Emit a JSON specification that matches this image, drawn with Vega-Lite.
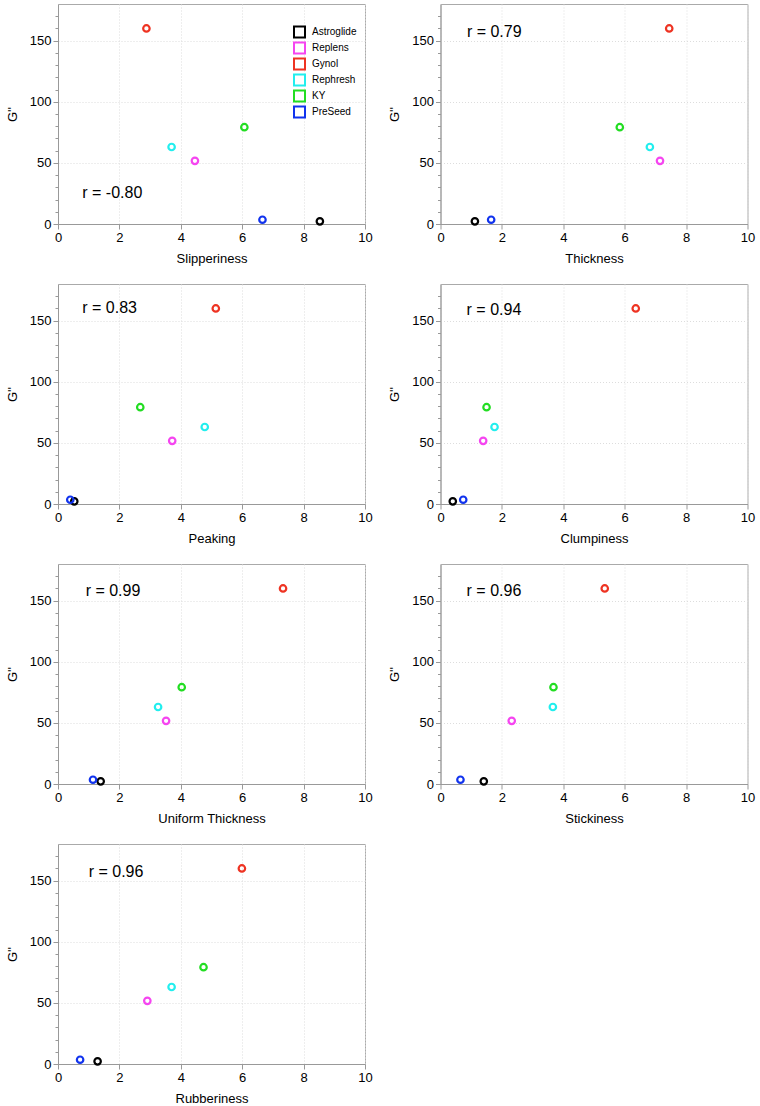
{
  "$schema": "https://vega.github.io/schema/vega-lite/v6.json",
  "padding": {"left": 5, "top": 3, "right": 5, "bottom": 5},
  "background": "white",
  "datasets": {
    "lube": [
      {"product": "Astroglide", "Slipperiness": 8.53, "Thickness": 1.12, "Peaking": 0.53, "Clumpiness": 0.40, "UniformThickness": 1.39, "Stickiness": 1.41, "Rubberiness": 1.29, "G": 2.2},
      {"product": "Replens", "Slipperiness": 4.46, "Thickness": 7.15, "Peaking": 3.72, "Clumpiness": 1.39, "UniformThickness": 3.52, "Stickiness": 2.32, "Rubberiness": 2.91, "G": 51.7},
      {"product": "Gynol", "Slipperiness": 2.88, "Thickness": 7.45, "Peaking": 5.14, "Clumpiness": 6.36, "UniformThickness": 7.33, "Stickiness": 5.35, "Rubberiness": 5.99, "G": 160},
      {"product": "Rephresh", "Slipperiness": 3.70, "Thickness": 6.82, "Peaking": 4.78, "Clumpiness": 1.76, "UniformThickness": 3.26, "Stickiness": 3.66, "Rubberiness": 3.70, "G": 63},
      {"product": "KY", "Slipperiness": 6.07, "Thickness": 5.84, "Peaking": 2.68, "Clumpiness": 1.50, "UniformThickness": 4.03, "Stickiness": 3.68, "Rubberiness": 4.74, "G": 79.2},
      {"product": "PreSeed", "Slipperiness": 6.66, "Thickness": 1.65, "Peaking": 0.40, "Clumpiness": 0.74, "UniformThickness": 1.14, "Stickiness": 0.65, "Rubberiness": 0.72, "G": 3.5}
    ]
  },
  "columns": 2,
  "spacing": {"row": 17, "column": 14.5},
  "concat": [
    {
      "width": 307, "height": 220,
      "resolve": {"axis": {"y": "independent"}},
      "layer": [
        {"data": {"name": "lube"},
         "mark": {"type": "point", "shape": "circle", "filled": false, "strokeWidth": 2.2, "size": 42, "opacity": 1},
         "encoding": {
           "x": {"field": "Slipperiness", "type": "quantitative", "scale": {"domain": [0, 10], "nice": false}, "axis": {"title": "Slipperiness", "values": [0,1,2,3,4,5,6,7,8,9,10], "labelExpr": "datum.value % 2 === 0 ? datum.label : ''", "tickSize": {"condition": {"test": "datum.value % 2 === 0", "value": 5}, "value": 3}, "gridOpacity": {"condition": {"test": "datum.value % 2 === 0", "value": 1}, "value": 0}}},
           "y": {"field": "G", "type": "quantitative", "scale": {"domain": [0, 180], "nice": false}, "axis": {"title": "G''", "values": [0, 50, 100, 150], "tickSize": 5}},
           "color": {"field": "product", "type": "nominal", "scale": {"domain": ["Astroglide", "Replens", "Gynol", "Rephresh", "KY", "PreSeed"], "range": ["#000000", "#f545f0", "#ee3322", "#22eeee", "#22dd22", "#1133ee"]},
             "legend": {"orient": "none", "legendX": 235, "legendY": 21.5, "title": null, "symbolType": "square", "symbolSize": 121, "symbolStrokeWidth": 2, "symbolOpacity": 1, "rowPadding": -4.3, "labelOffset": 6, "labelFontSize": 10, "padding": 0,
               "encode": {"symbols": {"fill": {"scale": "color", "field": "value"}, "fillOpacity": {"value": 1}}}}}
         }},
        {"data": {"values": [{"label": "r = -0.80"}]},
         "mark": {"type": "text", "align": "left", "baseline": "middle", "fontSize": 16},
         "encoding": {"text": {"field": "label"}, "x": {"datum": 0.79, "type": "quantitative"}, "y": {"datum": 25, "type": "quantitative", "axis": {"orient": "left", "values": [10,20,30,40,60,70,80,90,110,120,130,140,160,170], "labels": false, "domain": false, "grid": false, "title": null, "tickSize": 3}}}}
      ]
    },
    {
      "width": 307, "height": 220,
      "resolve": {"axis": {"y": "independent"}},
      "layer": [
        {"data": {"name": "lube"},
         "mark": {"type": "point", "shape": "circle", "filled": false, "strokeWidth": 2.2, "size": 42, "opacity": 1},
         "encoding": {
           "x": {"field": "Thickness", "type": "quantitative", "scale": {"domain": [0, 10], "nice": false}, "axis": {"title": "Thickness", "values": [0,1,2,3,4,5,6,7,8,9,10], "labelExpr": "datum.value % 2 === 0 ? datum.label : ''", "tickSize": {"condition": {"test": "datum.value % 2 === 0", "value": 5}, "value": 3}, "gridOpacity": {"condition": {"test": "datum.value % 2 === 0", "value": 1}, "value": 0}}},
           "y": {"field": "G", "type": "quantitative", "scale": {"domain": [0, 180], "nice": false}, "axis": {"title": "G''", "values": [0, 50, 100, 150], "tickSize": 5}},
           "color": {"field": "product", "type": "nominal", "legend": null}
         }},
        {"data": {"values": [{"label": "r = 0.79"}]},
         "mark": {"type": "text", "align": "left", "baseline": "middle", "fontSize": 16},
         "encoding": {"text": {"field": "label"}, "x": {"datum": 0.86, "type": "quantitative"}, "y": {"datum": 157, "type": "quantitative", "axis": {"orient": "left", "values": [10,20,30,40,60,70,80,90,110,120,130,140,160,170], "labels": false, "domain": false, "grid": false, "title": null, "tickSize": 3}}}}
      ]
    },
    {
      "width": 307, "height": 220,
      "resolve": {"axis": {"y": "independent"}},
      "layer": [
        {"data": {"name": "lube"},
         "mark": {"type": "point", "shape": "circle", "filled": false, "strokeWidth": 2.2, "size": 42, "opacity": 1},
         "encoding": {
           "x": {"field": "Peaking", "type": "quantitative", "scale": {"domain": [0, 10], "nice": false}, "axis": {"title": "Peaking", "values": [0,1,2,3,4,5,6,7,8,9,10], "labelExpr": "datum.value % 2 === 0 ? datum.label : ''", "tickSize": {"condition": {"test": "datum.value % 2 === 0", "value": 5}, "value": 3}, "gridOpacity": {"condition": {"test": "datum.value % 2 === 0", "value": 1}, "value": 0}}},
           "y": {"field": "G", "type": "quantitative", "scale": {"domain": [0, 180], "nice": false}, "axis": {"title": "G''", "values": [0, 50, 100, 150], "tickSize": 5}},
           "color": {"field": "product", "type": "nominal", "legend": null}
         }},
        {"data": {"values": [{"label": "r = 0.83"}]},
         "mark": {"type": "text", "align": "left", "baseline": "middle", "fontSize": 16},
         "encoding": {"text": {"field": "label"}, "x": {"datum": 0.79, "type": "quantitative"}, "y": {"datum": 160, "type": "quantitative", "axis": {"orient": "left", "values": [10,20,30,40,60,70,80,90,110,120,130,140,160,170], "labels": false, "domain": false, "grid": false, "title": null, "tickSize": 3}}}}
      ]
    },
    {
      "width": 307, "height": 220,
      "resolve": {"axis": {"y": "independent"}},
      "layer": [
        {"data": {"name": "lube"},
         "mark": {"type": "point", "shape": "circle", "filled": false, "strokeWidth": 2.2, "size": 42, "opacity": 1},
         "encoding": {
           "x": {"field": "Clumpiness", "type": "quantitative", "scale": {"domain": [0, 10], "nice": false}, "axis": {"title": "Clumpiness", "values": [0,1,2,3,4,5,6,7,8,9,10], "labelExpr": "datum.value % 2 === 0 ? datum.label : ''", "tickSize": {"condition": {"test": "datum.value % 2 === 0", "value": 5}, "value": 3}, "gridOpacity": {"condition": {"test": "datum.value % 2 === 0", "value": 1}, "value": 0}}},
           "y": {"field": "G", "type": "quantitative", "scale": {"domain": [0, 180], "nice": false}, "axis": {"title": "G''", "values": [0, 50, 100, 150], "tickSize": 5}},
           "color": {"field": "product", "type": "nominal", "legend": null}
         }},
        {"data": {"values": [{"label": "r = 0.94"}]},
         "mark": {"type": "text", "align": "left", "baseline": "middle", "fontSize": 16},
         "encoding": {"text": {"field": "label"}, "x": {"datum": 0.85, "type": "quantitative"}, "y": {"datum": 158.5, "type": "quantitative", "axis": {"orient": "left", "values": [10,20,30,40,60,70,80,90,110,120,130,140,160,170], "labels": false, "domain": false, "grid": false, "title": null, "tickSize": 3}}}}
      ]
    },
    {
      "width": 307, "height": 220,
      "resolve": {"axis": {"y": "independent"}},
      "layer": [
        {"data": {"name": "lube"},
         "mark": {"type": "point", "shape": "circle", "filled": false, "strokeWidth": 2.2, "size": 42, "opacity": 1},
         "encoding": {
           "x": {"field": "UniformThickness", "type": "quantitative", "scale": {"domain": [0, 10], "nice": false}, "axis": {"title": "Uniform Thickness", "values": [0,1,2,3,4,5,6,7,8,9,10], "labelExpr": "datum.value % 2 === 0 ? datum.label : ''", "tickSize": {"condition": {"test": "datum.value % 2 === 0", "value": 5}, "value": 3}, "gridOpacity": {"condition": {"test": "datum.value % 2 === 0", "value": 1}, "value": 0}}},
           "y": {"field": "G", "type": "quantitative", "scale": {"domain": [0, 180], "nice": false}, "axis": {"title": "G''", "values": [0, 50, 100, 150], "tickSize": 5}},
           "color": {"field": "product", "type": "nominal", "legend": null}
         }},
        {"data": {"values": [{"label": "r = 0.99"}]},
         "mark": {"type": "text", "align": "left", "baseline": "middle", "fontSize": 16},
         "encoding": {"text": {"field": "label"}, "x": {"datum": 0.9, "type": "quantitative"}, "y": {"datum": 158, "type": "quantitative", "axis": {"orient": "left", "values": [10,20,30,40,60,70,80,90,110,120,130,140,160,170], "labels": false, "domain": false, "grid": false, "title": null, "tickSize": 3}}}}
      ]
    },
    {
      "width": 307, "height": 220,
      "resolve": {"axis": {"y": "independent"}},
      "layer": [
        {"data": {"name": "lube"},
         "mark": {"type": "point", "shape": "circle", "filled": false, "strokeWidth": 2.2, "size": 42, "opacity": 1},
         "encoding": {
           "x": {"field": "Stickiness", "type": "quantitative", "scale": {"domain": [0, 10], "nice": false}, "axis": {"title": "Stickiness", "values": [0,1,2,3,4,5,6,7,8,9,10], "labelExpr": "datum.value % 2 === 0 ? datum.label : ''", "tickSize": {"condition": {"test": "datum.value % 2 === 0", "value": 5}, "value": 3}, "gridOpacity": {"condition": {"test": "datum.value % 2 === 0", "value": 1}, "value": 0}}},
           "y": {"field": "G", "type": "quantitative", "scale": {"domain": [0, 180], "nice": false}, "axis": {"title": "G''", "values": [0, 50, 100, 150], "tickSize": 5}},
           "color": {"field": "product", "type": "nominal", "legend": null}
         }},
        {"data": {"values": [{"label": "r = 0.96"}]},
         "mark": {"type": "text", "align": "left", "baseline": "middle", "fontSize": 16},
         "encoding": {"text": {"field": "label"}, "x": {"datum": 0.85, "type": "quantitative"}, "y": {"datum": 158, "type": "quantitative", "axis": {"orient": "left", "values": [10,20,30,40,60,70,80,90,110,120,130,140,160,170], "labels": false, "domain": false, "grid": false, "title": null, "tickSize": 3}}}}
      ]
    },
    {
      "width": 307, "height": 220,
      "resolve": {"axis": {"y": "independent"}},
      "layer": [
        {"data": {"name": "lube"},
         "mark": {"type": "point", "shape": "circle", "filled": false, "strokeWidth": 2.2, "size": 42, "opacity": 1},
         "encoding": {
           "x": {"field": "Rubberiness", "type": "quantitative", "scale": {"domain": [0, 10], "nice": false}, "axis": {"title": "Rubberiness", "values": [0,1,2,3,4,5,6,7,8,9,10], "labelExpr": "datum.value % 2 === 0 ? datum.label : ''", "tickSize": {"condition": {"test": "datum.value % 2 === 0", "value": 5}, "value": 3}, "gridOpacity": {"condition": {"test": "datum.value % 2 === 0", "value": 1}, "value": 0}}},
           "y": {"field": "G", "type": "quantitative", "scale": {"domain": [0, 180], "nice": false}, "axis": {"title": "G''", "values": [0, 50, 100, 150], "tickSize": 5}},
           "color": {"field": "product", "type": "nominal", "legend": null}
         }},
        {"data": {"values": [{"label": "r = 0.96"}]},
         "mark": {"type": "text", "align": "left", "baseline": "middle", "fontSize": 16},
         "encoding": {"text": {"field": "label"}, "x": {"datum": 1.0, "type": "quantitative"}, "y": {"datum": 157.5, "type": "quantitative", "axis": {"orient": "left", "values": [10,20,30,40,60,70,80,90,110,120,130,140,160,170], "labels": false, "domain": false, "grid": false, "title": null, "tickSize": 3}}}}
      ]
    }
  ],
  "config": {
    "font": "Liberation Sans",
    "view": {"stroke": "#aaaaaa", "strokeWidth": 1},
    "axis": {"domainColor": "#999999", "tickColor": "#999999", "labelColor": "#000000", "titleColor": "#000000", "labelFontSize": 13, "titleFontSize": 13, "titleFontWeight": "normal", "labelFont": "Liberation Sans", "titleFont": "Liberation Sans", "gridColor": "#dddddd", "gridDash": [1, 2], "labelPadding": 2, "titlePadding": 8, "labelFlush": false, "labelOverlap": false},
    "axisY": {"titlePadding": 10},
    "legend": {"labelFont": "Liberation Sans", "labelColor": "#000000"},
    "text": {"font": "Liberation Sans", "color": "#000000"}
  }
}
